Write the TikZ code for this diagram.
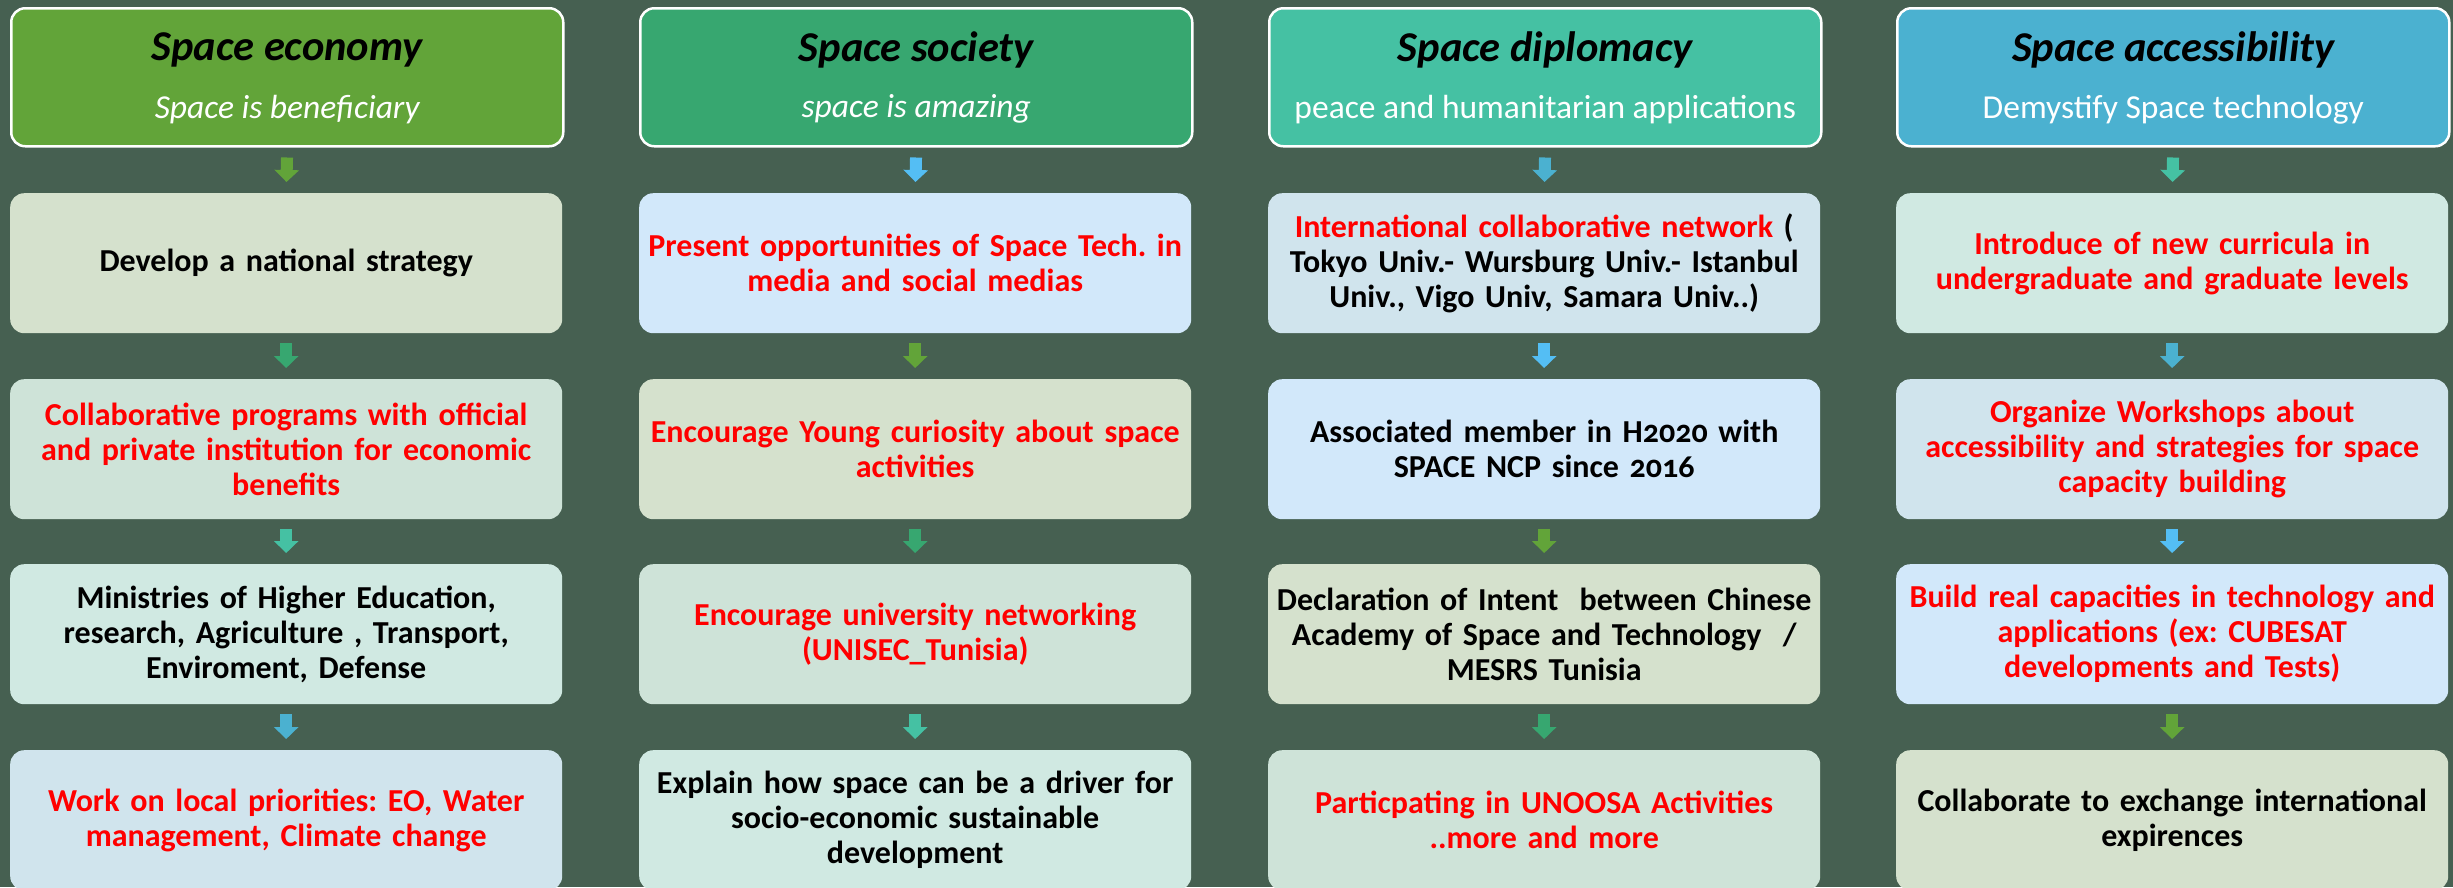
\documentclass[tikz,border=0pt]{standalone}
\usepackage{fontspec}
\setmainfont{Carlito}[Numbers=OldStyle]
\usetikzlibrary{arrows.meta,calc}
\definecolor{bg}{RGB}{70,96,81}
\definecolor{cA}{RGB}{98,164,57}
\definecolor{cB}{RGB}{55,167,112}
\definecolor{cC}{RGB}{69,193,163}
\definecolor{cD}{RGB}{75,177,208}
\definecolor{cE}{RGB}{84,190,244}
\definecolor{pA}{RGB}{213,225,205}
\definecolor{pB}{RGB}{206,227,216}
\definecolor{pC}{RGB}{208,233,226}
\definecolor{pD}{RGB}{208,228,237}
\definecolor{pE}{RGB}{210,232,250}
\definecolor{txtred}{RGB}{255,0,0}
\newcommand\bodyfnt{\fontsize{32}{35}\selectfont\bfseries\frenchspacing}
\newcommand\ttlfnt{\fontsize{42.5}{48}\selectfont\bfseries\itshape}
\newcommand\subfnt{\fontsize{33.5}{38}\selectfont\frenchspacing}
\begin{document}
\begin{tikzpicture}[x=1pt,y=-1pt,
  hdr/.style={draw=white,line width=2.5pt,rounded corners=14pt,minimum width=552pt,minimum height=138pt,anchor=north west,inner sep=0pt},
  box/.style={rounded corners=14pt,minimum width=552pt,minimum height=140pt,anchor=north west,inner sep=0pt,align=center,font=\bodyfnt,text width=550pt},
  redtxt/.style={text=txtred},
  ttl/.style={font=\ttlfnt,text=black},
  sub/.style={font=\subfnt,text=white},
  subit/.style={font=\subfnt\itshape,text=white},
  conn/.style={line width=12pt,-{Triangle[length=12pt,width=24pt]},shorten <=10pt,shorten >=11pt}
]
\useasboundingbox[fill=bg] (0,0) rectangle (2453,887);

% ---------- headers ----------
\node[hdr,fill=cA] (h1) at (10,7) {};
\node[hdr,fill=cB] (h2) at (639,7) {};
\node[hdr,fill=cC] (h3) at (1268,7) {};
\node[hdr,fill=cD] (h4) at (1896,7) {};
\node[ttl] (t1) at ($(h1.center)+(0,-27)$) {Space economy};
\node[ttl] (t2) at ($(h2.center)+(0,-27)$) {Space society};
\node[ttl] (t3) at ($(h3.center)+(0,-27)$) {Space diplomacy};
\node[ttl] (t4) at ($(h4.center)+(0,-27)$) {Space accessibility};
\node[subit] (s1) at ($(h1.center)+(0,32)$) {Space is beneficiary};
\node[subit] (s2) at ($(h2.center)+(0,32)$) {space is amazing};
\node[sub] (s3) at ($(h3.center)+(0,32)$) {peace and humanitarian applications};
\node[sub] (s4) at ($(h4.center)+(0,32)$) {Demystify Space technology};

% ---------- column 1 ----------
\node[box,fill=pA] (b11) at (10,193) {Develop a national strategy};
\node[box,fill=pB,redtxt] (b12) at (10,379) {Collaborative programs with official\\and private institution for economic\\benefits};
\node[box,fill=pC] (b13) at (10,564) {Ministries of Higher Education,\\research, Agriculture , Transport,\\Enviroment, Defense};
\node[box,fill=pD,redtxt] (b14) at (10,750) {Work on local priorities: EO, Water\\management, Climate change};

% ---------- column 2 ----------
\node[box,fill=pE,redtxt] (b21) at (639,193) {Present opportunities of Space Tech. in\\media and social medias};
\node[box,fill=pA,redtxt] (b22) at (639,379) {Encourage Young curiosity about space\\activities};
\node[box,fill=pB,redtxt] (b23) at (639,564) {Encourage university networking\\(UNISEC\_Tunisia)};
\node[box,fill=pC] (b24) at (639,750) {Explain how space can be a driver for\\socio-economic sustainable\\development};

% ---------- column 3 ----------
\node[box,fill=pD] (b31) at (1268,193) {{\color{txtred}International collaborative network} (\\Tokyo Univ.- Wursburg Univ.- Istanbul\\Univ., Vigo Univ, Samara Univ..)};
\node[box,fill=pE] (b32) at (1268,379) {Associated member in H2020 with\\SPACE NCP since 2016};
\node[box,fill=pA] (b33) at (1268,564) {Declaration of Intent\ \ between Chinese\\Academy of Space and Technology\ \ /\\MESRS Tunisia};
\node[box,fill=pB,redtxt] (b34) at (1268,750) {Particpating in UNOOSA Activities\\..more and more};

% ---------- column 4 ----------
\node[box,fill=pC,redtxt] (b41) at (1896,193) {Introduce of new curricula in\\undergraduate and graduate levels};
\node[box,fill=pD,redtxt] (b42) at (1896,379) {Organize Workshops about\\accessibility and strategies for space\\capacity building};
\node[box,fill=pE,redtxt] (b43) at (1896,564) {Build real capacities in technology and\\applications (ex: CUBESAT\\developments and Tests)};
\node[box,fill=pA] (b44) at (1896,750) {Collaborate to exchange international\\expirences};

% ---------- arrows ----------
\draw[conn,cA] (h1.south) -- (b11.north);
\draw[conn,cB] (b11.south) -- (b12.north);
\draw[conn,cC] (b12.south) -- (b13.north);
\draw[conn,cD] (b13.south) -- (b14.north);

\draw[conn,cE] (h2.south) -- (b21.north);
\draw[conn,cA] (b21.south) -- (b22.north);
\draw[conn,cB] (b22.south) -- (b23.north);
\draw[conn,cC] (b23.south) -- (b24.north);

\draw[conn,cD] (h3.south) -- (b31.north);
\draw[conn,cE] (b31.south) -- (b32.north);
\draw[conn,cA] (b32.south) -- (b33.north);
\draw[conn,cB] (b33.south) -- (b34.north);

\draw[conn,cC] (h4.south) -- (b41.north);
\draw[conn,cD] (b41.south) -- (b42.north);
\draw[conn,cE] (b42.south) -- (b43.north);
\draw[conn,cA] (b43.south) -- (b44.north);
\end{tikzpicture}
\end{document}
